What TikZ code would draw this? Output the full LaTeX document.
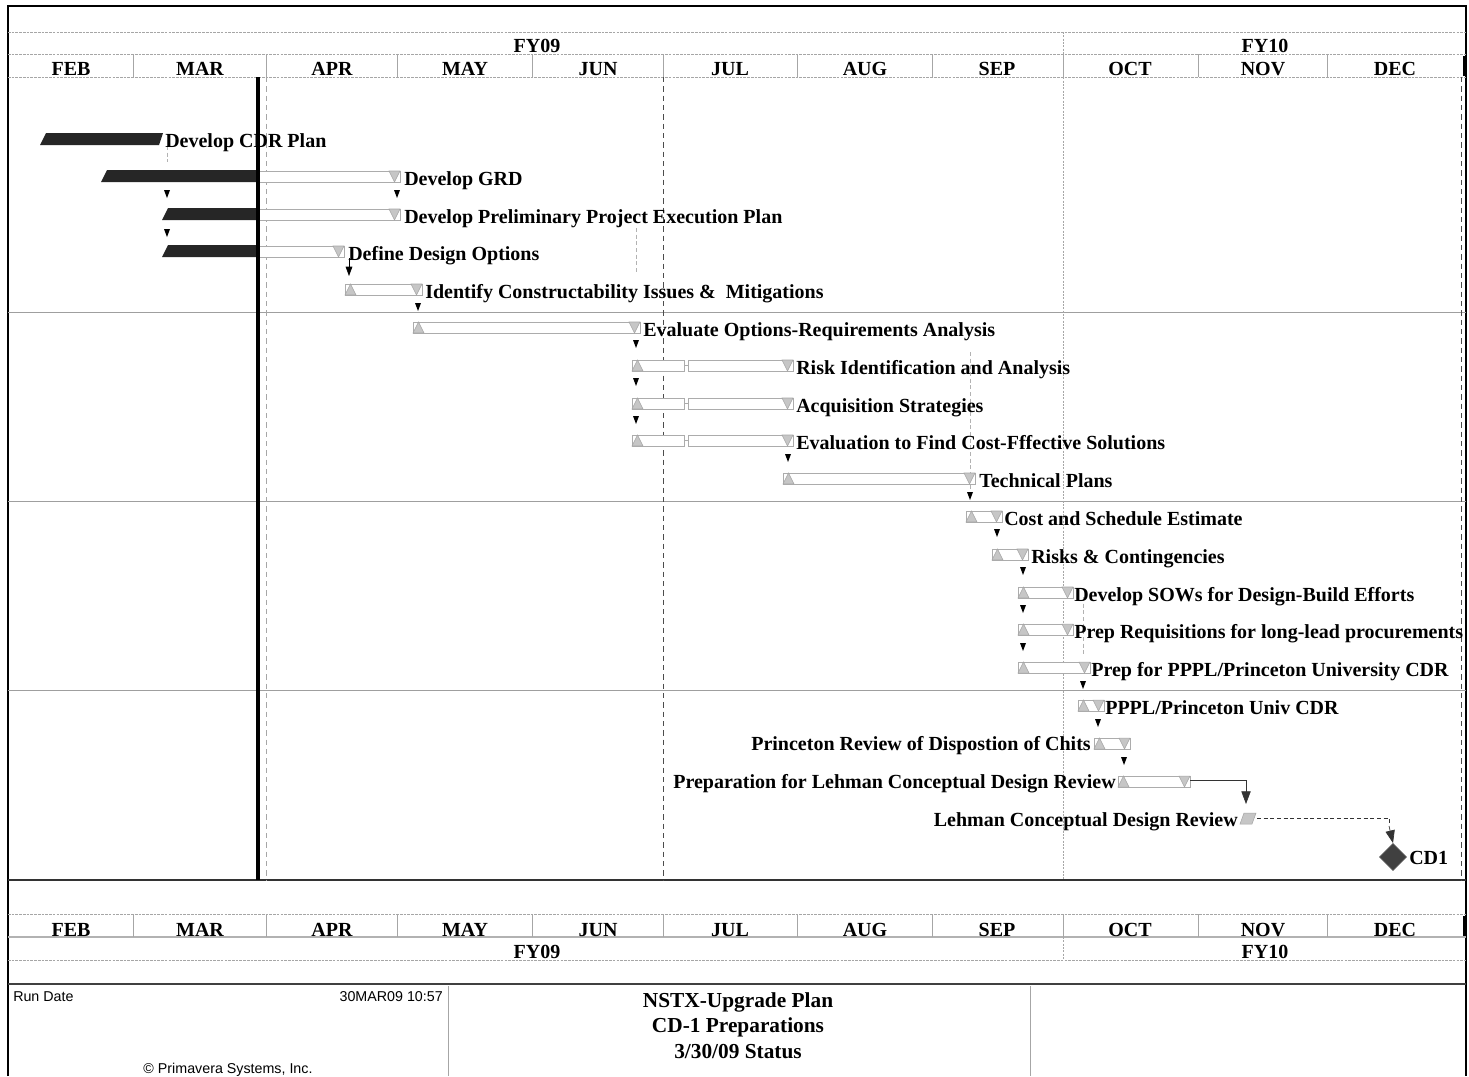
\documentclass[tikz,border=0pt]{standalone}
\usepackage{fontspec}
\setmainfont{Liberation Serif}
\setsansfont{Liberation Sans}
\usetikzlibrary{arrows.meta,shapes.geometric}
\newcommand\bbarS[3]{\fill[blkbar] (#1,#3+12) -- (#1+6,#3) -- (#2,#3) -- (#2-4,#3+12) -- cycle;}
\newcommand\bbarD[2]{\fill[blkbar] (#1,#2+12) -- (#1+6,#2) -- (258,#2) -- (258,#2+12) -- cycle;}
\newcommand\wbar[3]{\draw[whbar] (#1,#3) rectangle (#2,#3+11);}
\newcommand\upmk[2]{\filldraw[mk] (#1,#2+11) -- (#1+5.5,#2) -- (#1+11,#2+11) -- cycle;}
\newcommand\dnmk[2]{\filldraw[mk] (#1-11,#2) -- (#1,#2) -- (#1-5.5,#2+11) -- cycle;}
\newcommand\tbar[3]{\wbar{#1}{#2}{#3}\upmk{#1}{#3}\dnmk{#2}{#3}}
\newcommand\nbar[3]{\draw[whbar] (#1,#3) rectangle (684,#3+11); \draw[whbar] (688,#3) rectangle (#2,#3+11); \draw[whbar] (684,#3+5.5) -- (688,#3+5.5); \upmk{#1}{#3}\dnmk{#2}{#3}}
\newcommand\rarr[2]{\fill[black] (#1-3,#2-8) -- (#1+3,#2-8) -- (#1,#2) -- cycle;}
\begin{document}
\begin{tikzpicture}[x=0.75pt,y=-0.75pt,
  hd/.style={font=\bfseries\fontsize{15}{15}\selectfont, anchor=base, inner sep=0pt},
  lbl/.style={font=\bfseries\fontsize{15}{15}\selectfont, anchor=base west, inner sep=0pt},
  lblr/.style={font=\bfseries\fontsize{15}{15}\selectfont, anchor=base east, inner sep=0pt},
  ttl/.style={font=\bfseries\fontsize{16}{16}\selectfont, anchor=base, inner sep=0pt},
  sml/.style={font=\sffamily\fontsize{10.7}{11}\selectfont, inner sep=0pt},
  grd/.style={draw=gray!70, line width=0.6pt, dash pattern=on 2pt off 0.8pt},
  sep/.style={draw=gray!75, line width=0.7pt},
  vdash/.style={draw=black!70, line width=0.5pt, dash pattern=on 4pt off 3pt},
  reld/.style={draw=gray!60, line width=0.5pt, dash pattern=on 3pt off 2pt},
  blkbar/.style={fill=black!85},
  whbar/.style={fill=white, draw=gray!65, line width=0.5pt},
  mk/.style={fill=gray!45, draw=gray!70, line width=0.4pt},
  bigarr/.style={line width=0.5pt, -{Triangle[length=9.5pt,width=7pt]}}]
\useasboundingbox (0,0) rectangle (1469,1076);
\fill[white] (0,0) rectangle (1469,1076);
% frame
\draw[line width=1.6pt] (8,1076) -- (8,6) -- (1466,6) -- (1466,1076);
% top header
\draw[grd] (8,32) -- (1466,32);
\draw[grd] (8,54) -- (1466,54);
\draw[grd] (8,77) -- (1466,77);
\foreach \x in {133,266,397,532,663,797,932,1063,1198,1327} \draw[gray!70,line width=0.6pt] (\x,54) -- (\x,77);
\draw[gray!70,line width=0.6pt,dash pattern=on 1.5pt off 1pt] (1063,32) -- (1063,54);
\draw[black,line width=2pt] (1464,56) -- (1464,76);
\foreach \m/\x in {FEB/71,MAR/200,APR/332,MAY/465,JUN/598,JUL/730,AUG/865,SEP/997,OCT/1130,NOV/1263,DEC/1395}
  \node[hd] at (\x,75) {\m};
\node[hd] (fy09t) at (537,52) {FY09};
\node[hd] (fy10t) at (1265,52) {FY10};
% chart area lines
\draw[sep] (8,312) -- (1466,312);
\draw[sep] (8,501) -- (1466,501);
\draw[sep] (8,690) -- (1466,690);
\draw[black!80,line width=0.8pt] (8,880) -- (1466,880);
\draw[vdash,draw=gray!70] (266,77) -- (266,880);
\draw[vdash] (663,77) -- (663,880);
\draw[gray!70,line width=0.6pt,dash pattern=on 1.5pt off 1pt] (1063,54) -- (1063,880);
\draw[vdash] (1461,77) -- (1461,880);
% relation dashed lines
\draw[reld] (167,146) -- (167,162);
\draw[reld] (636,228) -- (636,272);
\draw[reld] (970,352) -- (970,490);
\draw[reld] (1083,597) -- (1083,655);
% bars
\bbarS{40}{163}{133}
\bbarD{101}{170} \wbar{258}{400}{171} \dnmk{400}{171}
\bbarD{162}{208} \wbar{258}{400}{209} \dnmk{400}{209}
\bbarD{162}{245} \wbar{258}{344}{246} \dnmk{344}{246}
\tbar{345}{422}{284}
\tbar{413}{640}{322}
\nbar{632}{793}{360}
\nbar{632}{793}{398}
\nbar{632}{793}{435}
\tbar{783}{975}{473}
\tbar{966}{1002}{511}
\tbar{992}{1028}{549}
\tbar{1018}{1073}{587}
\tbar{1018}{1073}{624}
\tbar{1018}{1090}{662}
\tbar{1078}{1104}{700}
\tbar{1094}{1130}{738}
\tbar{1118}{1190}{776}
\filldraw[mk] (1240,824) -- (1244,813) -- (1256,813) -- (1252,824) -- cycle;
% data date line
\draw[black,line width=2.3pt] (258,77) -- (258,880);
% labels
\node[lbl] (t1) at (165,147) {Develop CDR Plan};
\node[lbl] (t2) at (404,185) {Develop GRD};
\node[lbl] (t3) at (404,223) {Develop Preliminary Project Execution Plan};
\node[lbl] (t4) at (348,260) {Define Design Options};
\node[lbl] (t5) at (425,298) {Identify Constructability Issues \&\ \ Mitigations};
\node[lbl] (t6) at (643,336) {Evaluate Options-Requirements Analysis};
\node[lbl] (t7) at (796,374) {Risk Identification and Analysis};
\node[lbl] (t8) at (796,412) {Acquisition Strategies};
\node[lbl] (t9) at (796,449) {Evaluation to Find Cost-Fffective Solutions};
\node[lbl] (t10) at (979,487) {Technical Plans};
\node[lbl] (t11) at (1004,525) {Cost and Schedule Estimate};
\node[lbl] (t12) at (1031,563) {Risks \& Contingencies};
\node[lbl] (t13) at (1074,601) {Develop SOWs for Design-Build Efforts};
\node[lbl] (t14) at (1074,638) {Prep Requisitions for long-lead procurements};
\node[lbl] (t15) at (1091,676) {Prep for PPPL/Princeton University CDR};
\node[lbl] (t16) at (1105,714) {PPPL/Princeton Univ CDR};
\node[lblr] (t17) at (1091,750) {Princeton Review of Dispostion of Chits};
\node[lblr] (t18) at (1116,788) {Preparation for Lehman Conceptual Design Review};
\node[lblr] (t19) at (1238,826) {Lehman Conceptual Design Review};
\node[diamond, fill=black!75, draw=black!60, line width=0.4pt, minimum width=20.5pt, minimum height=20.5pt, inner sep=0pt] (cd1) at (1393,857) {};
\node[font=\bfseries\fontsize{15}{15}\selectfont, anchor=west, inner sep=0pt] (t20) at (1409,858) {CD1};
% relationship arrows
\rarr{167}{198}
\rarr{397}{198}
\rarr{167}{237}
\draw[line width=0.5pt,-{Triangle[length=7pt,width=5pt]}] (349,258) -- (349,276);
\rarr{418}{311}
\rarr{636}{348}
\rarr{636}{386}
\rarr{636}{424}
\rarr{788}{462}
\rarr{970}{500}
\rarr{997}{537}
\rarr{1023}{575}
\rarr{1023}{613}
\rarr{1023}{651}
\rarr{1083}{689}
\rarr{1098}{727}
\rarr{1124}{765}
\coordinate (r18) at (1190,780);
\coordinate (r19in) at (1246,804);
\draw[bigarr,draw=black!80] (r18) -| (r19in);
\coordinate (r19) at (1257,818);
\draw[black!80,line width=0.5pt,dash pattern=on 3pt off 2pt] (r19) -- (1389,818) -- (1389,826);
\draw[bigarr,draw=black!80] (1389,826) -- (cd1.north);
% bottom header
\draw[grd] (8,914) -- (1466,914);
\draw[gray!60,line width=1pt] (8,937) -- (1466,937);
\draw[grd] (8,960) -- (1466,960);
\foreach \x in {133,266,397,532,663,797,932,1063,1198,1327} \draw[gray!70,line width=0.6pt] (\x,914) -- (\x,937);
\draw[gray!70,line width=0.6pt,dash pattern=on 1.5pt off 1pt] (1063,937) -- (1063,960);
\draw[black,line width=2pt] (1464,916) -- (1464,936);
\foreach \m/\x in {FEB/71,MAR/200,APR/332,MAY/465,JUN/598,JUL/730,AUG/865,SEP/997,OCT/1130,NOV/1263,DEC/1395}
  \node[hd] at (\x,936) {\m};
\node[hd] (fy09b) at (537,958) {FY09};
\node[hd] (fy10b) at (1265,958) {FY10};
% footer
\draw[black!75,line width=2.2pt] (8,984) -- (1466,984);
\draw[gray!70,line width=0.6pt] (448,986) -- (448,1076);
\draw[gray!70,line width=0.6pt] (1030,986) -- (1030,1076);
\node[sml, anchor=base west] (rd) at (13,1001) {Run Date};
\node[sml, anchor=base east] (rdt) at (443,1001) {30MAR09 10:57};
\node[sml, anchor=base] (cp) at (228,1073) {\char"00A9\ Primavera Systems, Inc.};
\node[ttl] (ti1) at (738,1007) {NSTX-Upgrade Plan};
\node[ttl] (ti2) at (738,1032) {CD-1 Preparations};
\node[ttl] (ti3) at (738,1058) {3/30/09 Status};
\end{tikzpicture}
\end{document}
